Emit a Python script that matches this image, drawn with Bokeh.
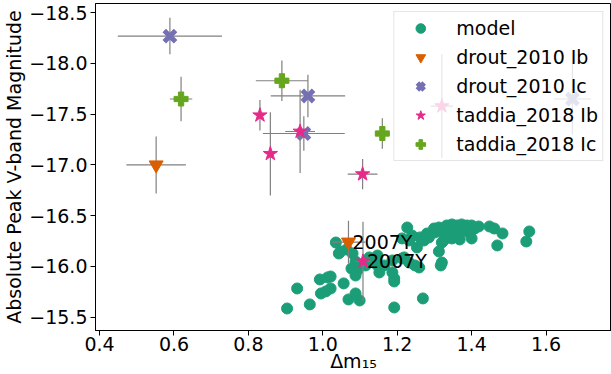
import numpy as np
from bokeh.plotting import figure
from bokeh.models import (Range1d, FixedTicker, CustomJSTickFormatter, Legend,
                          LegendItem, ColumnDataSource)
from bokeh.core.properties import value
from bokeh.embed import file_html
from bokeh.resources import INLINE

# ---------------- data ----------------
model_dm15 = [0.904, 0.931, 0.965, 0.992, 1.013, 1.021, 0.995, 1.008, 1.021, 1.056,
              1.069, 1.099, 1.088, 1.088, 1.093, 1.077, 1.152, 1.192, 1.192, 1.269,
              1.192, 1.147, 1.165, 1.248, 1.317, 1.259, 1.035, 1.048, 1.064, 1.080,
              1.088, 1.115, 1.125, 1.141, 1.187, 1.213, 1.232, 1.213, 1.232, 1.253,
              1.227, 1.240, 1.261, 1.285, 1.280, 1.272, 1.312, 1.320, 1.320, 1.299,
              1.312, 1.333, 1.347, 1.360, 1.373, 1.387, 1.400, 1.419, 1.301, 1.325,
              1.341, 1.365, 1.392, 1.400, 1.325, 1.347, 1.368, 1.400, 1.408, 1.448,
              1.461, 1.483, 1.469, 1.555, 1.547, 1.187, 1.219, 1.133, 1.147, 1.043]
model_mag = [-15.586, -15.783, -15.626, -15.872, -15.892, -15.901, -15.734, -15.754, -15.783, -15.833,
             -15.675, -15.665, -15.734, -15.911, -15.961, -15.980, -15.941, -15.882, -15.852, -15.685,
             -15.596, -16.010, -16.010, -16.010, -16.010, -15.990, -16.236, -16.148, -16.167, -16.128,
             -16.049, -16.010, -16.089, -16.039, -16.059, -16.079, -16.039, -16.276, -16.256, -16.187,
             -16.384, -16.305, -16.286, -16.286, -16.325, -16.256, -16.148, -16.039, -16.236, -16.374,
             -16.384, -16.404, -16.414, -16.404, -16.414, -16.404, -16.404, -16.394, -16.335, -16.325,
             -16.325, -16.335, -16.335, -16.355, -16.256, -16.276, -16.266, -16.276, -16.374, -16.394,
             -16.374, -16.325, -16.207, -16.345, -16.246, -15.941, -16.089, -16.059, -16.108, -16.128]

drout_ib_dm15 = [0.552, 1.069]
drout_ib_mag = [-17.00, -16.24]
drout_ib_dm15_err = [0.08, 0.045]
drout_ib_mag_err = [0.28, 0.21]
drout_ib_name = ["", "2007Y"]

drout_ic_dm15 = [0.589, 0.960, 0.949, 1.671]
drout_ic_mag = [-18.27, -17.68, -17.31, -17.65]
drout_ic_dm15_err = [0.14, 0.10, 0.11, 0.05]
drout_ic_mag_err = [0.18, 0.21, 0.17, 0.35]
drout_ic_name = ["", "", "", ""]

taddia_ib_dm15 = [0.831, 0.859, 0.939, 1.107, 1.108, 1.320]
taddia_ib_mag = [-17.49, -17.11, -17.33, -16.91, -16.05, -17.58]
taddia_ib_dm15_err = [0.0, 0.0, 0.04, 0.04, 0.02, 0.03]
taddia_ib_mag_err = [0.15, 0.41, 0.41, 0.15, 0.39, 0.51]
taddia_ib_name = ["", "", "", "", "2007Y", ""]

taddia_ic_dm15 = [0.619, 0.890, 1.160]
taddia_ic_mag = [-17.65, -17.83, -17.31]
taddia_ic_dm15_err = [0.03, 0.07, 0.02]
taddia_ic_mag_err = [0.22, 0.20, 0.15]
taddia_ic_name = ["", "", ""]

x_ticks = [0.4, 0.6, 0.8, 1.0, 1.2, 1.4, 1.6]
y_ticks = [-18.5, -18.0, -17.5, -17.0, -16.5, -16.0, -15.5]

FONT = "DejaVu Sans"
FS = "19px"

p = figure(width=611, height=374, output_backend="svg", toolbar_location=None,
           x_range=Range1d(0.389, 1.776), y_range=Range1d(-15.369, -18.591),
           min_border_left=91, min_border_right=0, min_border_top=3, min_border_bottom=0)
p.grid.visible = False
p.outline_line_color = "black"
p.outline_line_width = 1
p.background_fill_color = "white"
p.border_fill_color = "white"

p.xaxis.ticker = FixedTicker(ticks=x_ticks)
p.yaxis.ticker = FixedTicker(ticks=y_ticks)
p.xaxis.formatter = CustomJSTickFormatter(code="return tick.toFixed(1);")
p.yaxis.formatter = CustomJSTickFormatter(
    code="return (tick < 0 ? '\u2212' : '') + Math.abs(tick).toFixed(1);")
p.xaxis.axis_label = "\u0394m\u2081\u2085"
p.yaxis.axis_label = "Absolute Peak V-band Magnitude"
for ax in (p.xaxis[0], p.yaxis[0]):
    ax.major_label_text_font = FONT
    ax.major_label_text_font_size = FS
    ax.major_label_text_color = "black"
    ax.axis_label_text_font = FONT
    ax.axis_label_text_font_size = FS
    ax.axis_label_text_font_style = "normal"
    ax.axis_label_text_color = "black"
    ax.major_tick_in = 0
    ax.major_tick_out = 5
    ax.minor_tick_line_color = None
    ax.major_tick_line_color = "black"
    ax.axis_line_color = "black"
    ax.major_label_standoff = 3
    ax.axis_label_standoff = 1
p.xaxis.major_label_standoff = 1
p.xaxis.axis_label_standoff = -4

# model
r_model = p.scatter(model_dm15, model_mag, marker="circle", size=11,
                    fill_color="#1b9e77", line_color="#1b9e77")

series = [
    ("drout_2010 Ib", drout_ib_dm15, drout_ib_mag, drout_ib_dm15_err, drout_ib_mag_err,
     drout_ib_name, "inverted_triangle", "#d95f02", 14, 1),
    ("drout_2010 Ic", drout_ic_dm15, drout_ic_mag, drout_ic_dm15_err, drout_ic_mag_err,
     drout_ic_name, "x", "#7570b3", 16, 5),
    ("taddia_2018 Ib", taddia_ib_dm15, taddia_ib_mag, taddia_ib_dm15_err, taddia_ib_mag_err,
     taddia_ib_name, "star", "#e7298a", 15, 1),
    ("taddia_2018 Ic", taddia_ic_dm15, taddia_ic_mag, taddia_ic_dm15_err, taddia_ic_mag_err,
     taddia_ic_name, "plus", "#66a61e", 14, 1),
]

items = [LegendItem(label="model", renderers=[r_model])]
label_x, label_y, label_t = [], [], []
for name, xs, ys, xe, ye, names, marker, color, size, lw in series:
    xs = np.array(xs); ys = np.array(ys); xe = np.array(xe); ye = np.array(ye)
    p.segment(xs - xe, ys, xs + xe, ys, line_color="gray", line_width=1.2)
    p.segment(xs, ys - ye, xs, ys + ye, line_color="gray", line_width=1.2)
    src = ColumnDataSource(dict(x=xs, y=ys))
    r = p.scatter("x", "y", source=src, marker=marker, size=size, line_width=lw,
                  fill_color=color, line_color=color)
    items.append(LegendItem(label=name, renderers=[r]))
    for xv, yv, t in zip(xs, ys, names):
        if t:
            label_x.append(xv); label_y.append(yv); label_t.append(t)

p.text(label_x, label_y, text=label_t, text_font=value(FONT), text_font_size=FS,
       text_color="black", text_baseline="alphabetic", text_align="left", x_offset=4)

legend = Legend(items=items, location="top_right")
legend.label_text_font = FONT
legend.label_text_font_size = FS
legend.label_text_color = "black"
legend.padding = 4
legend.spacing = 5
legend.glyph_height = 24
legend.label_height = 24
legend.glyph_width = 44
legend.label_standoff = 14
legend.margin = 8
legend.border_line_color = "#cccccc"
legend.border_line_width = 1
legend.background_fill_color = "white"
legend.background_fill_alpha = 0.8
p.add_layout(legend)

open("out.html", "w").write(file_html(p, INLINE))
